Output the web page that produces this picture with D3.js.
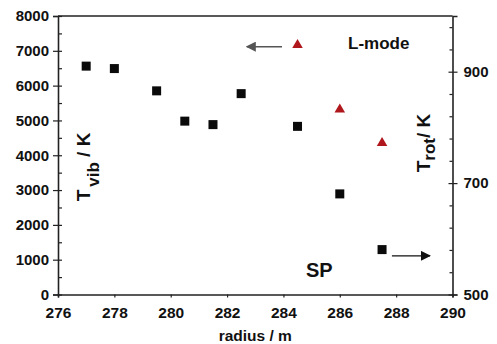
<!DOCTYPE html>
<html>
<head>
<meta charset="utf-8">
<script src="https://cdn.jsdelivr.net/npm/d3@7"></script>
<style>
  body { margin: 0; background: #fff; }
  svg text { font-family: "Liberation Sans", Arial, sans-serif; font-weight: bold; fill: #111; }
</style>
</head>
<body>
<div id="chart"></div>
<script>
// T_vib (left axis), squares
const vibRadius = [277, 278, 279.5, 280.5, 281.5, 282.5, 284.5, 286, 287.5];
const vibTemp   = [6560, 6490, 5850, 4980, 4880, 5770, 4830, 2890, 1290];

// T_rot (right axis), triangles
const rotRadius = [284.5, 286, 287.5];
const rotTemp   = [948, 832, 772];

const xTicks = [276, 278, 280, 282, 284, 286, 288, 290];
const leftTicks = [0, 1000, 2000, 3000, 4000, 5000, 6000, 7000, 8000];
const rightTicks = [500, 700, 900];

// arrows in data units: [x from, x to, y (left axis)]
const arrowL = [283.95, 282.7, 7120];
const arrowR = [287.85, 289.2, 1110];

const W = 497, H = 344;
const margin = {top: 16, right: 44.5, bottom: 49.5, left: 58};

const svg = d3.select("#chart").append("svg")
  .attr("width", W)
  .attr("height", H)
  .attr("viewBox", [0, 0, W, H]);

const x = d3.scaleLinear().domain([276, 290]).range([margin.left, W - margin.right]);
const yL = d3.scaleLinear().domain([0, 8000]).range([H - margin.bottom, margin.top]);
const yR = d3.scaleLinear().domain([500, 1000]).range([H - margin.bottom, margin.top]);

const x0 = margin.left, x1 = W - margin.right, y0 = H - margin.bottom, y1 = margin.top;

// top frame line
svg.append("line")
  .attr("x1", x0).attr("x2", x1).attr("y1", y1).attr("y2", y1)
  .attr("stroke", "#222").attr("stroke-width", 1.4);

// bottom axis
const gx = svg.append("g")
  .attr("transform", `translate(0,${y0})`)
  .call(d3.axisBottom(x).tickValues(xTicks).tickSize(3).tickPadding(9).tickFormat(d3.format("d")));
gx.selectAll("text").style("font-size", "15.5px");

// left axis, major crossing + minor in
const gl = svg.append("g")
  .attr("transform", `translate(${x0},0)`)
  .call(d3.axisLeft(yL).tickValues(leftTicks).tickSize(5).tickPadding(4).tickFormat(d3.format("d")));
gl.selectAll("text").style("font-size", "15px");
gl.selectAll(".tick line").attr("x1", 4);
svg.append("g")
  .attr("transform", `translate(${x0},0)`)
  .call(d3.axisLeft(yL).tickValues(d3.range(500, 8000, 1000)).tickSize(-4).tickFormat(""))
  .select(".domain").remove();

// right axis
const gr = svg.append("g")
  .attr("transform", `translate(${x1},0)`)
  .call(d3.axisRight(yR).tickValues(rightTicks).tickSize(5).tickPadding(6).tickFormat(d3.format("d")));
gr.selectAll("text").style("font-size", "15px");
gr.selectAll(".tick line").attr("x1", -4);
svg.append("g")
  .attr("transform", `translate(${x1},0)`)
  .call(d3.axisRight(yR).tickValues(d3.range(500, 1000, 40).filter(v => !rightTicks.includes(v))).tickSize(-3).tickFormat(""))
  .select(".domain").remove();

svg.selectAll(".domain").attr("stroke", "#222").attr("stroke-width", 1.6);
svg.selectAll(".tick line").attr("stroke", "#222").attr("stroke-width", 1.2);

// squares
svg.append("g").selectAll("rect")
  .data(vibRadius)
  .join("rect")
    .attr("x", (d) => x(d) - 4.5)
    .attr("y", (d, i) => yL(vibTemp[i]) - 4.5)
    .attr("width", 9)
    .attr("height", 9)
    .attr("fill", "#0a0a0a");

// triangles
svg.append("g").selectAll("path")
  .data(rotRadius)
  .join("path")
    .attr("transform", (d, i) => `translate(${x(d)},${yR(rotTemp[i])})`)
    .attr("d", d3.symbol(d3.symbolTriangle, 48))
    .attr("fill", "#b0171c");

// arrows
const defs = svg.append("defs");
function marker(id, color) {
  defs.append("marker")
    .attr("id", id)
    .attr("viewBox", "0 0 10 10")
    .attr("refX", 9).attr("refY", 5)
    .attr("markerWidth", 10).attr("markerHeight", 10)
    .attr("markerUnits", "userSpaceOnUse")
    .attr("orient", "auto")
    .append("path")
      .attr("d", "M0,0L10,5L0,10z")
      .attr("fill", color);
}
marker("headGray", "#555");
marker("headBlack", "#111");

svg.append("line")
  .attr("x1", x(arrowL[0])).attr("x2", x(arrowL[1]))
  .attr("y1", yL(arrowL[2])).attr("y2", yL(arrowL[2]))
  .attr("stroke", "#555").attr("stroke-width", 1.5)
  .attr("marker-end", "url(#headGray)");

svg.append("line")
  .attr("x1", x(arrowR[0])).attr("x2", x(arrowR[1]))
  .attr("y1", yL(arrowR[2])).attr("y2", yL(arrowR[2]))
  .attr("stroke", "#111").attr("stroke-width", 1.2)
  .attr("marker-end", "url(#headBlack)");

// annotations
svg.append("text")
  .attr("x", 348).attr("y", 49)
  .style("font-size", "17px")
  .text("L-mode");

svg.append("text")
  .attr("x", 306).attr("y", 277)
  .style("font-size", "20px")
  .text("SP");

// axis titles
svg.append("text")
  .attr("x", x0 + (x1 - x0) / 2).attr("y", 341)
  .attr("text-anchor", "middle")
  .style("font-size", "15.5px")
  .text("radius / m");

const tl = svg.append("text")
  .attr("transform", "translate(90,167) rotate(-90)")
  .attr("text-anchor", "middle")
  .style("font-size", "19px");
tl.append("tspan").text("T");
tl.append("tspan").attr("dx", "3").attr("dy", "0.55em").style("font-size", "17px").text("vib");
tl.append("tspan").attr("dy", "-0.5em").text(" / K");

const tr = svg.append("text")
  .attr("transform", "translate(430,143) rotate(-90)")
  .attr("text-anchor", "middle")
  .style("font-size", "19px");
tr.append("tspan").text("T");
tr.append("tspan").attr("dy", "0.3em").style("font-size", "17px").text("rot");
tr.append("tspan").attr("dy", "-0.27em").text("/ K");
</script>
</body>
</html>
